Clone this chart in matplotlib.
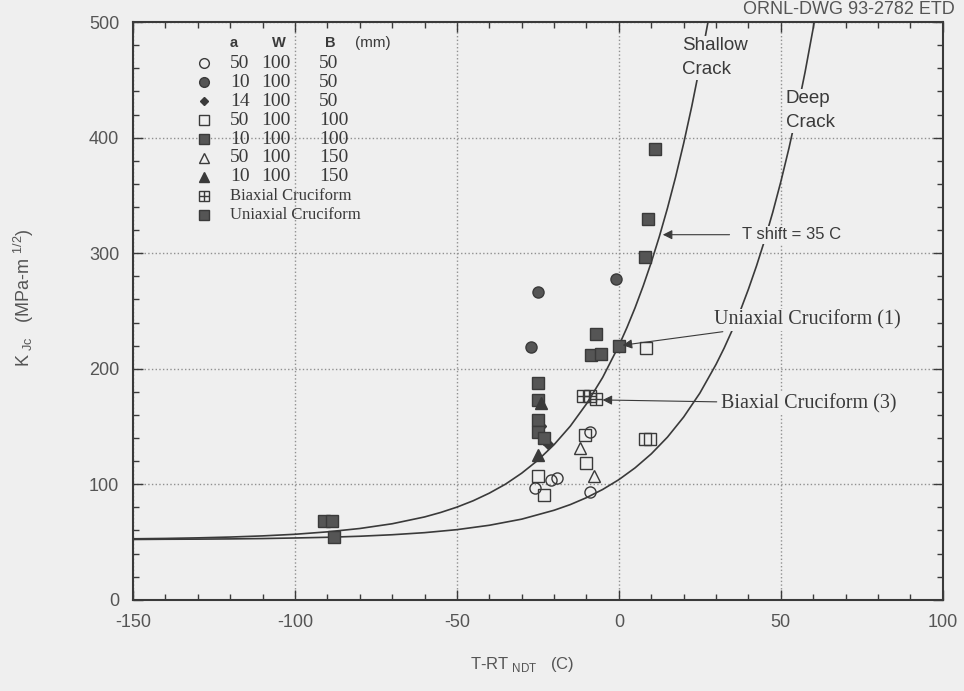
import matplotlib.pyplot as plt

plt.rcParams['font.family'] = ['Liberation Sans', 'DejaVu Sans']
plt.rcParams['axes.unicode_minus'] = False

# ---- data: (T - RT_NDT [C], K_Jc [MPa m^1/2]) ----
open_circle_x = [-26, -21, -19, -9, -9]
open_circle_y = [97, 104, 105, 145, 93]

dark_circle_x = [-27, -25, -1]
dark_circle_y = [219, 266, 278]

diamond_x = [-24, -23, -22]
diamond_y = [150, 138, 135]

open_square_x = [-25, -23, -10.5, -10, 8.5, 8, 9.5]
open_square_y = [107, 91, 143, 118, 218, 139, 139]

dark_square_x = [-91, -88.5, -88, -25, -25, -25, -25, -23, -8.5, -5.5, -7, 8, 9, 11]
dark_square_y = [68, 68, 54, 188, 173, 156, 145, 140, 212, 213, 230, 297, 330, 390]

open_tri_x = [-12, -7.7]
open_tri_y = [131, 107]

dark_tri_x = [-24, -25]
dark_tri_y = [170, 125]

biaxial_x = [-11, -9, -7]
biaxial_y = [176, 176, 174]

uniaxial_x = [0]
uniaxial_y = [220]

# toughness curves, points
shallow_x = [-150, -140, -130, -120, -110, -100, -90, -80, -70, -60, -55, -50, -45, -40,
             -35, -30, -25, -20, -15, -10, -5, 0, 2.5, 5, 7.5, 10, 12.5, 15, 17.5, 20,
             22.5, 25, 27.5]
shallow_y = [52.8, 53.1, 53.6, 54.3, 55.3, 56.7, 58.8, 61.7, 65.8, 71.7, 75.6, 80.2, 85.7,
             92.3, 100.1, 109.6, 120.8, 134.3, 150.3, 169.6, 192.5, 220, 235.7, 252.8,
             271.6, 292.1, 314.5, 339.0, 365.8, 395.1, 427.1, 462.1, 500]
deep_x = [-150, -140, -130, -120, -110, -100, -90, -80, -70, -60, -50, -40, -30, -20, -15,
          -10, -5, 0, 5, 10, 15, 20, 25, 30, 32.5, 35, 37.5, 40, 42.5, 45, 47.5, 50, 52.5,
          55, 57.5, 60, 60.3]
deep_y = [52.2, 52.4, 52.5, 52.7, 53.0, 53.5, 54.1, 55.0, 56.3, 58.1, 60.7, 64.5, 69.8,
          77.5, 82.4, 88.4, 95.5, 104, 114.2, 126.3, 140.8, 158.2, 178.9, 203.8, 217.9,
          233.4, 250.3, 268.9, 289.1, 311.2, 335.4, 361.9, 390.8, 422.5, 457.0, 494.9, 500]

# legend rows: a, W, B
legend_rows = [('50', '100', '50'), ('10', '100', '50'), ('14', '100', '50'),
               ('50', '100', '100'), ('10', '100', '100'), ('50', '100', '150'),
               ('10', '100', '150')]

ink = '#3a3a3a'
grey = '#555555'
bg = '#efefef'

fig = plt.figure(figsize=(9.64, 6.91), dpi=100, facecolor=bg)
ax = fig.add_axes([0.138, 0.132, 0.840, 0.836], facecolor=bg)

ax.plot(shallow_x, shallow_y, color=ink, lw=1.2)
ax.plot(deep_x, deep_y, color=ink, lw=1.2)

ms = 8
ax.plot(open_circle_x, open_circle_y, 'o', mfc='none', mec=ink, ms=ms)
ax.plot(dark_circle_x, dark_circle_y, 'o', mfc=grey, mec=ink, ms=ms)
ax.plot(diamond_x, diamond_y, 'D', mfc=ink, mec=ink, ms=5)
ax.plot(open_square_x, open_square_y, 's', mfc='none', mec=ink, ms=ms)
ax.plot(dark_square_x, dark_square_y, 's', mfc=grey, mec=ink, ms=ms)
ax.plot(open_tri_x, open_tri_y, '^', mfc='none', mec=ink, ms=ms)
ax.plot(dark_tri_x, dark_tri_y, '^', mfc=ink, mec=ink, ms=ms)
ax.plot(biaxial_x, biaxial_y, 's', mfc='none', mec=ink, ms=ms + 1)
ax.plot(biaxial_x, biaxial_y, '+', color=ink, ms=ms + 1, mew=1)
ax.plot(uniaxial_x, uniaxial_y, 's', mfc=grey, mec=ink, ms=ms)

ax.set_xlim(-150, 100)
ax.set_ylim(0, 500)
ax.set_xticks([-150, -100, -50, 0, 50, 100])
ax.set_yticks([0, 100, 200, 300, 400, 500])
ax.set_xticks(range(-150, 101, 10), minor=True)
ax.set_yticks(range(0, 501, 20), minor=True)
ax.tick_params(which='both', direction='in', top=True, right=True, colors=ink,
               labelcolor=grey, labelsize=13, pad=10)
ax.tick_params(which='major', length=7, width=1)
ax.tick_params(which='minor', length=4, width=1)
ax.grid(True, which='major', ls=':', color='#909090', lw=1)
for s in ax.spines.values():
    s.set_color(ink)
    s.set_linewidth(1.5)

ax.set_xlabel(r'T-RT$_{\ \mathregular{NDT}}$   (C)', fontsize=12, color=grey)
ax.xaxis.set_label_coords(0.481, -0.095)
ax.set_ylabel(r'K$_{\ \mathregular{J c}}$   (MPa-m $^{\mathregular{1/2}}$)', fontsize=13,
              color=grey)
ax.yaxis.set_label_coords(-0.120, 0.522)

# legend block drawn as a table
ax.fill_between([-145, -50], 258, 495, color=bg, zorder=1.5)
hdr_y = 482
ax.text(-119, hdr_y, 'a', fontsize=10.5, color=ink, ha='center', va='center', fontweight='bold')
ax.text(-105, hdr_y, 'W', fontsize=10.5, color=ink, ha='center', va='center', fontweight='bold')
ax.text(-89, hdr_y, 'B', fontsize=10.5, color=ink, ha='center', va='center', fontweight='bold')
ax.text(-81.5, hdr_y, '(mm)', fontsize=11, color=ink, ha='left', va='center')
styles = [dict(marker='o', mfc='none'), dict(marker='o', mfc=grey),
          dict(marker='D', mfc=ink, ms=4), dict(marker='s', mfc='none'),
          dict(marker='s', mfc=grey), dict(marker='^', mfc='none'),
          dict(marker='^', mfc=ink)]
row_y = [464.5, 448, 431.5, 415, 398.8, 382.4, 366]
for (a, w, b), st, yy in zip(legend_rows, styles, row_y):
    kw = dict(ms=7, mec=ink, ls='none')
    kw.update(st)
    ax.plot([-128], [yy], **kw)
    for xx, t in zip([-120, -110.5, -92.5], [a, w, b]):
        ax.text(xx, yy, t, fontsize=14, family='Liberation Serif', color=ink, va='center')
ax.plot([-128], [349.6], 's', mfc='none', mec=ink, ms=7)
ax.plot([-128], [349.6], '+', color=ink, ms=7)
ax.text(-120, 349.6, 'Biaxial Cruciform', fontsize=12, family='Liberation Serif',
        color=ink, va='center')
ax.plot([-128], [333], 's', mfc=grey, mec=ink, ms=7)
ax.text(-120, 333, 'Uniaxial Cruciform', fontsize=12, family='Liberation Serif',
        color=ink, va='center')

# curve labels and call-outs
ax.text(19.5, 487, 'Shallow\nCrack', fontsize=13.5, color=ink, va='top', ha='left',
        linespacing=1.55, bbox=dict(fc=bg, ec='none', pad=1))
ax.text(51.5, 441, 'Deep\nCrack', fontsize=13.5, color=ink, va='top', ha='left',
        linespacing=1.55, bbox=dict(fc=bg, ec='none', pad=1))
ax.annotate('T shift = 35 C', xy=(12.7, 316), xytext=(38, 316), fontsize=12, color=ink,
            va='center', bbox=dict(fc=bg, ec='none', pad=1),
            arrowprops=dict(arrowstyle='-|>', color=ink, lw=0.8, mutation_scale=14,
                            shrinkA=8))
ax.annotate('Uniaxial Cruciform (1)', xy=(0.3, 220), xytext=(29.5, 242), fontsize=14.5,
            family='Liberation Serif', color=ink, va='center',
            bbox=dict(fc=bg, ec='none', pad=1),
            arrowprops=dict(arrowstyle='-|>', color=ink, lw=0.8, mutation_scale=14))
ax.annotate('Biaxial Cruciform (3)', xy=(-5.9, 173), xytext=(31.5, 170), fontsize=14.5,
            family='Liberation Serif', color=ink, va='center',
            bbox=dict(fc=bg, ec='none', pad=1),
            arrowprops=dict(arrowstyle='-|>', color=ink, lw=0.8, mutation_scale=14))

fig.text(0.99, 0.999, 'ORNL-DWG 93-2782 ETD', fontsize=13, color=grey, ha='right', va='top')

fig.savefig('out.png', dpi=100, facecolor=bg)
